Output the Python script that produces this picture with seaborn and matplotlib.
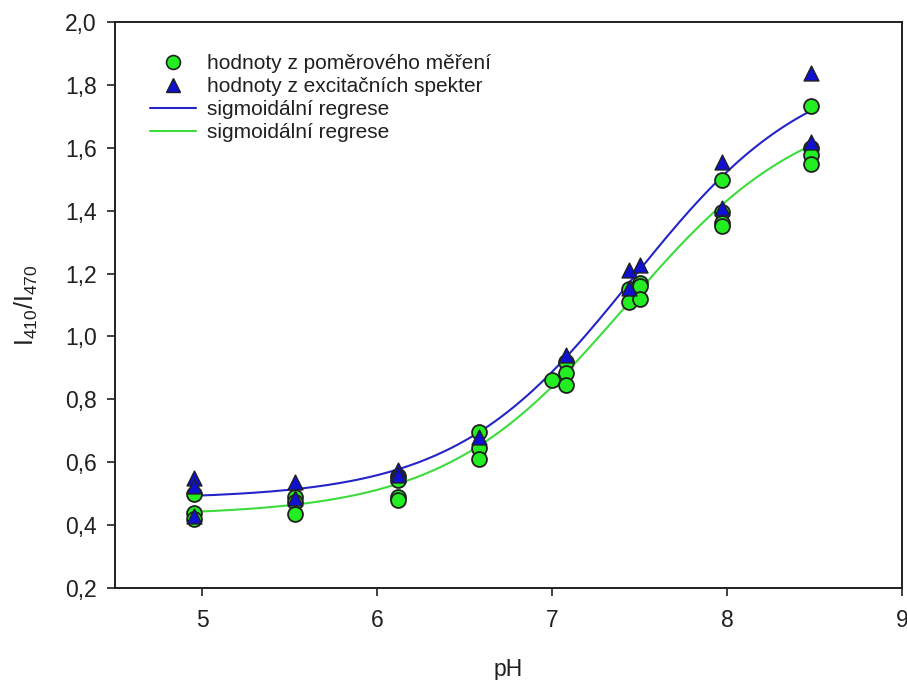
import numpy as np
import pandas as pd
import matplotlib
matplotlib.use("Agg")
import matplotlib.pyplot as plt
import seaborn as sns
from matplotlib.lines import Line2D

# ---- data ----
ph_circles = [4.95, 4.95, 4.95,
              5.53, 5.53, 5.53,
              6.12, 6.12, 6.12, 6.12,
              6.58, 6.58, 6.58,
              7.00, 7.08, 7.08, 7.08,
              7.44, 7.44, 7.50, 7.50, 7.50,
              7.97, 7.97, 7.97, 7.97,
              8.48, 8.48, 8.48, 8.48]
ratio_circles = [0.50, 0.44, 0.42,
                 0.49, 0.475, 0.435,
                 0.555, 0.545, 0.49, 0.48,
                 0.695, 0.645, 0.61,
                 0.862, 0.92, 0.884, 0.846,
                 1.15, 1.11, 1.17, 1.16, 1.12,
                 1.498, 1.395, 1.36, 1.35,
                 1.733, 1.60, 1.577, 1.549]

ph_triangles = [4.95, 4.95, 4.95,
                5.53, 5.53,
                6.12, 6.12,
                6.58,
                7.08,
                7.44, 7.44, 7.50,
                7.97, 7.97,
                8.48, 8.48]
ratio_triangles = [0.55, 0.525, 0.43,
                   0.537, 0.485,
                   0.575, 0.56,
                   0.68,
                   0.941,
                   1.211, 1.155, 1.227,
                   1.555, 1.41,
                   1.838, 1.619]

x_ticks = [5, 6, 7, 8, 9]
y_ticks = [0.2, 0.4, 0.6, 0.8, 1.0, 1.2, 1.4, 1.6, 1.8, 2.0]
y_tick_labels = ["0,2", "0,4", "0,6", "0,8", "1,0", "1,2", "1,4", "1,6", "1,8", "2,0"]

label_circles = "hodnoty z poměrového měření"
label_triangles = "hodnoty z excitačních spekter"
label_fit = "sigmoidální regrese"


def fit_sigmoid(x, y):
    """4-parameter sigmoid regression y = y0 + a / (1 + exp(-(x - x0) / b))."""
    x = np.asarray(x, float)
    y = np.asarray(y, float)
    best = None
    for x0 in np.linspace(6.5, 8.5, 201):
        for b in np.linspace(0.2, 1.2, 101):
            s = 1.0 / (1.0 + np.exp(-(x - x0) / b))
            A = np.column_stack([np.ones_like(s), s])
            coef, *_ = np.linalg.lstsq(A, y, rcond=None)
            r = np.sum((A @ coef - y) ** 2)
            if best is None or r < best[0]:
                best = (r, coef[0], coef[1], x0, b)
    _, y0, a, x0, b = best
    xs = np.linspace(x.min(), x.max(), 200)
    return xs, y0 + a / (1.0 + np.exp(-(xs - x0) / b))


xb, yb = fit_sigmoid(ph_triangles, ratio_triangles)
xg, yg = fit_sigmoid(ph_circles, ratio_circles)

df_c = pd.DataFrame({"pH": ph_circles, "r": ratio_circles})
df_t = pd.DataFrame({"pH": ph_triangles, "r": ratio_triangles})
df_fb = pd.DataFrame({"pH": xb, "r": yb})
df_fg = pd.DataFrame({"pH": xg, "r": yg})

sns.set_style("ticks")
plt.rcParams["font.family"] = ["Liberation Sans", "DejaVu Sans"]
plt.rcParams["mathtext.fontset"] = "custom"
plt.rcParams["mathtext.rm"] = "Liberation Sans"
plt.rcParams["mathtext.it"] = "Liberation Sans:italic"

fig = plt.figure(figsize=(9.07, 6.80), dpi=100)
ax = fig.add_axes([115 / 907, 1 - 588 / 680, (902 - 115) / 907, (588 - 22) / 680])

green_fill = "#22EE22"
blue_fill = "#1010D0"
line_blue = "#2424C8"
line_green = "#3CDC3C"

sns.lineplot(data=df_fb, x="pH", y="r", ax=ax, color=line_blue, lw=1.5, zorder=2)
sns.lineplot(data=df_fg, x="pH", y="r", ax=ax, color=line_green, lw=1.5, zorder=2)
sns.scatterplot(data=df_c, x="pH", y="r", ax=ax, marker="o", s=115,
                color=green_fill, edgecolor="#202020", linewidth=1.3, zorder=3)
sns.scatterplot(data=df_t, x="pH", y="r", ax=ax, marker="^", s=115,
                color=blue_fill, edgecolor="#202020", linewidth=1.0, zorder=4)

ax.set_xlim(4.5, 9.0)
ax.set_ylim(0.2, 2.0)
ax.set_xticks(x_ticks)
ax.set_xticklabels([str(t) for t in x_ticks])
ax.set_yticks(y_ticks)
ax.set_yticklabels(y_tick_labels)
ax.tick_params(axis="both", labelsize=16.5, length=6, width=1.2, direction="out",
               color="#202020", labelcolor="#202020")
ax.tick_params(axis="x", pad=9)
ax.tick_params(axis="y", pad=7)
for sp in ax.spines.values():
    sp.set_linewidth(1.4)
    sp.set_color("#202020")

ax.set_xlabel("pH", fontsize=16.5, labelpad=19, color="#202020")
ax.set_ylabel(r"I$_{410}$/I$_{470}$", fontsize=18, labelpad=18, color="#202020")

handles = [
    Line2D([], [], ls="none", marker="o", markersize=10, markerfacecolor=green_fill,
           markeredgecolor="#202020", markeredgewidth=1.2),
    Line2D([], [], ls="none", marker="^", markersize=10, markerfacecolor=blue_fill,
           markeredgecolor="#202020", markeredgewidth=1.0),
    Line2D([], [], color=line_blue, lw=1.5),
    Line2D([], [], color=line_green, lw=1.5),
]
leg = ax.legend(handles, [label_circles, label_triangles, label_fit, label_fit],
                loc="upper left", bbox_to_anchor=(35 / 787, (588 - 54) / 566),
                frameon=False, fontsize=15, handlelength=2.2, handletextpad=0.55,
                labelspacing=0.2, borderaxespad=0.0, borderpad=0.0)
for t in leg.get_texts():
    t.set_color("#202020")

fig.savefig("out.png", dpi=100)
